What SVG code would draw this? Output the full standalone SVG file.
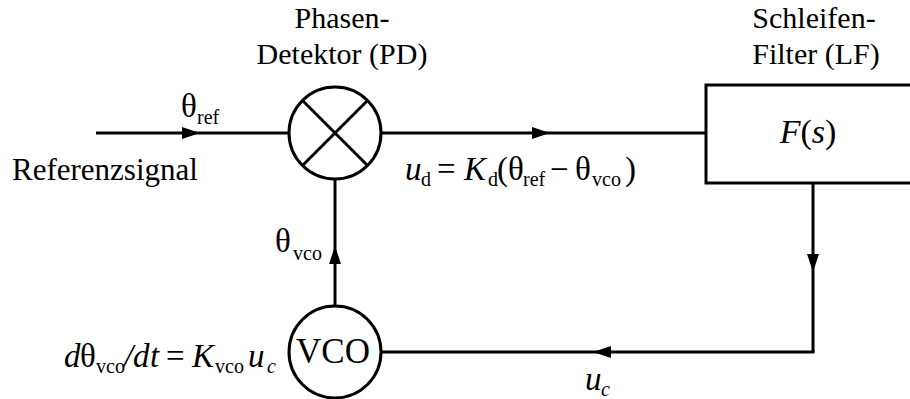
<svg xmlns="http://www.w3.org/2000/svg" width="910" height="399" viewBox="0 0 910 399" font-family="'Liberation Serif', 'Times New Roman', serif">
<defs>
<style>
text, tspan { font-family: 'Liberation Serif', 'Times New Roman', serif; fill: #000; }
.lbl { font-size: 30px; }
.m { font-size: 33px; }
.i { font-style: italic; }
.s { font-size: 20px; }
.ln { fill: none; stroke: #000; stroke-width: 3; }
.nd { fill: #fff; stroke: #000; stroke-width: 3; }
</style>
<marker id="ah" viewBox="0 0 18 12" refX="18" refY="6" markerWidth="18" markerHeight="12" markerUnits="userSpaceOnUse" orient="auto">
<path d="M0,0 L18,6 L0,12 z" fill="#000"/>
</marker>
</defs>
<rect width="910" height="399" fill="#fff"/>
<g id="connectors">
<path class="ln" d="M96,133 H200 H289" marker-mid="url(#ah)"/>
<path class="ln" d="M381,133 H550 H706" marker-mid="url(#ah)"/>
<path class="ln" d="M813,183 V272 V352" marker-mid="url(#ah)"/>
<path class="ln" d="M813,352 H593 H381" stroke-linecap="square" marker-mid="url(#ah)"/>
<path class="ln" d="M335,306 V246 V179" marker-mid="url(#ah)"/>
</g>
<g id="pd">
<circle class="nd" cx="335" cy="133" r="46"/>
<path class="ln" d="M302.5,100.5 L367.5,165.5 M367.5,100.5 L302.5,165.5"/>
<text class="lbl" x="342" y="28" text-anchor="middle">Phasen-</text>
<text class="lbl" x="342" y="64" text-anchor="middle">Detektor (PD)</text>
</g>
<g id="lf">
<rect class="nd" x="706" y="85" width="220" height="98"/>
<text x="808" y="143" text-anchor="middle" style="font-size:34px"><tspan class="i">F</tspan>(<tspan class="i">s</tspan>)</text>
<text class="lbl" x="814" y="28" text-anchor="middle">Schleifen-</text>
<text class="lbl" x="816" y="64" text-anchor="middle">Filter (LF)</text>
</g>
<g id="vco">
<circle class="nd" cx="335" cy="352" r="46"/>
<text x="333" y="363" text-anchor="middle" style="font-size:35px">VCO</text>
</g>
<g id="labels">
<text x="12" y="180" style="font-size:31px">Referenzsignal</text>
<text class="m" y="117"><tspan x="181">θ</tspan><tspan x="197" dy="7" class="s">ref</tspan></text>
<text class="m" y="252"><tspan x="275">θ</tspan><tspan x="293" dy="8" class="s">vco</tspan></text>
<text class="m" y="180"><tspan x="405" class="i">u</tspan><tspan x="421" dy="6" class="s">d</tspan><tspan x="437" dy="-6">=</tspan><tspan x="464" class="i">K</tspan><tspan x="488" dy="6" class="s">d</tspan><tspan x="497" dy="-6">(θ</tspan><tspan x="523" dy="6" class="s">ref</tspan><tspan x="550" dy="-6">−</tspan><tspan x="575">θ</tspan><tspan x="592" dy="6" class="s">vco</tspan><tspan x="625" dy="-6">)</tspan></text>
<text class="m" y="367"><tspan x="64" class="i">d</tspan><tspan x="80">θ</tspan><tspan x="96" dy="6" class="s">vco</tspan><tspan x="124" dy="-6" class="i">/</tspan><tspan x="133" class="i">d</tspan><tspan x="150" class="i">t</tspan><tspan x="166">=</tspan><tspan x="192" class="i">K</tspan><tspan x="215" dy="6" class="s">vco</tspan><tspan x="248" dy="-6" class="i">u</tspan><tspan x="267" dy="6" class="s i">c</tspan></text>
<text class="m" y="390"><tspan x="585" class="i">u</tspan><tspan x="601" dy="6" class="s i">c</tspan></text>
</g>
</svg>
